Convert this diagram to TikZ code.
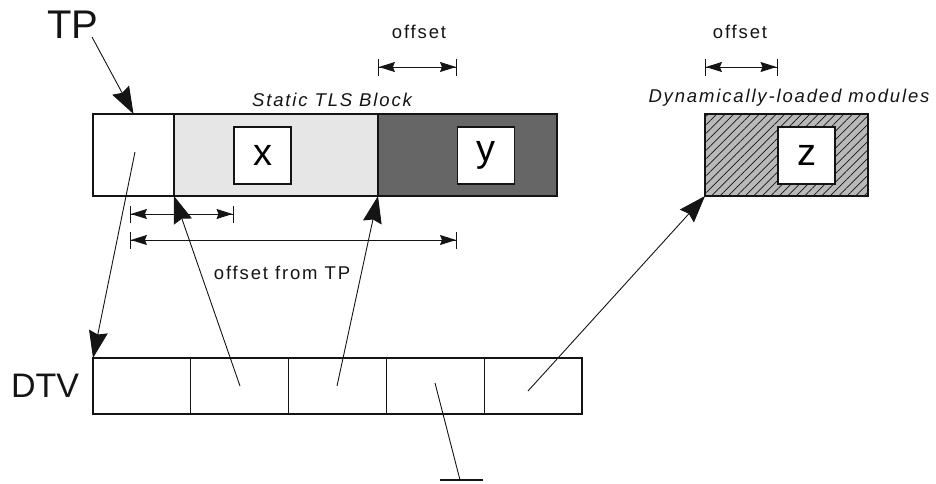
\documentclass[tikz,border=0pt]{standalone}
\usepackage{fontspec}
\setmainfont{Liberation Sans}
\newfontfamily\lblfont[LetterSpace=10]{Liberation Sans}
\usepackage{tikz}
\usetikzlibrary{arrows.meta, positioning, patterns.meta}
\definecolor{ink}{RGB}{20,20,20}
\definecolor{tlslight}{RGB}{230,230,230}
\definecolor{tlsdark}{RGB}{102,102,102}
\definecolor{modgray}{RGB}{185,185,185}
\tikzset{
  cell/.style={rectangle, draw=ink, line width=1.2pt, inner sep=0pt,
    outer sep=0pt, minimum height=82pt},
  varbox/.style={rectangle, draw=ink, fill=white, line width=1.2pt,
    minimum width=57pt, minimum height=57pt, inner sep=0pt,
    font=\fontsize{38}{40}\selectfont},
  dtvcell/.style={rectangle, draw=ink, line width=1.2pt, inner sep=0pt,
    outer sep=0pt, minimum width=97.8pt, minimum height=56pt},
  ptr/.style={-{Stealth[length=27pt, width=19pt, inset=3pt]},
    line width=0.9pt, color=ink},
  dim/.style={{Bar[width=17pt]Stealth[length=16pt, width=10pt, inset=2pt]}-{Stealth[length=16pt, width=10pt, inset=2pt]Bar[width=17pt]},
    line width=0.9pt, color=ink},
  lbl/.style={font=\lblfont\fontsize{18.5}{20}\selectfont, inner sep=0pt, text=ink},
  ilbl/.style={font=\lblfont\itshape\fontsize{18.5}{20}\selectfont, inner sep=0pt, text=ink},
  biglbl/.style={inner sep=0pt, text=ink}
}

\begin{document}
\begin{tikzpicture}[x=1pt, y=-1pt]
  \useasboundingbox (0,0) rectangle (936,483);
  % ── Static TLS block ───────────────────────────────────────────────
  \node[cell, minimum width=81pt, anchor=north west] (tpcell) at (93,114) {};
  \node[cell, fill=tlslight, minimum width=204pt, right=0pt of tpcell] (xblock) {};
  \node[cell, fill=tlsdark, minimum width=179pt, right=0pt of xblock] (yblock) {};
  \node[varbox] (x) at (262.5,155.5) {x};
  \node[varbox] (y) at (486,155.5) {y};
  \node[ilbl] (tlslbl) at (332,100) {Static TLS Block};

  % ── Dynamically-loaded module ──────────────────────────────────────
  \node[cell, fill=modgray, minimum width=163pt,
    postaction={pattern={Lines[angle=45, distance=6pt, line width=0.7pt]}, pattern color=ink}]
    (zblock) at (786.5,155) {};
  \node[varbox] (z) at (806.5,155.5) {z};
  \node[ilbl] (modlbl) at (789,98) {Dynamically-loaded modules};

  % ── Thread pointer ─────────────────────────────────────────────────
  \node[biglbl, font=\fontsize{40}{42}\selectfont] (tp) at (73,25) {TP};
  \coordinate (tpfoot) at (92,37);
  \draw[ptr] (tpfoot) -- (tpcell.north);

  % ── Offsets ────────────────────────────────────────────────────────
  \node[lbl] (off1) at (419,32) {offset};
  \node[lbl] (off2) at (740,32) {offset};
  \coordinate (o1a) at (yblock.west |- 0,67);
  \coordinate (o1b) at (y.west |- 0,67);
  \coordinate (o2a) at (zblock.west |- 0,67);
  \coordinate (o2b) at (z.west |- 0,67);
  \draw[dim] (o1a) -- (o1b);
  \draw[dim] (o2a) -- (o2b);
  \coordinate (tpa) at (130,214);
  \coordinate (tpb) at (130,240);
  \draw[dim] (tpa) -- (x.west |- tpa);
  \draw[dim] (tpb) -- (y.west |- tpb);
  \node[lbl] (offtp) at (282,273) {offset from TP};

  % ── DTV ────────────────────────────────────────────────────────────
  \node[biglbl, font=\fontsize{34}{36}\selectfont] (dtv) at (45,386) {DTV};
  \node[dtvcell, anchor=north west] (dtv1) at (93,358) {};
  \foreach \i [remember=\i as \j (initially 1)] in {2,...,5}
    \node[dtvcell, right=0pt of dtv\j] (dtv\i) {};

  % ── Pointers ───────────────────────────────────────────────────────
  \coordinate (p0) at (135,152);
  \coordinate (p2) at (240,386);
  \coordinate (p3) at (337,386);
  \coordinate (p4) at (435,383);
  \coordinate (p5) at (528,391);
  \coordinate (nul) at (460,480);
  \draw[ptr] (p0) -- (dtv1.north west);
  \draw[ptr] (p2) -- (xblock.south west);
  \draw[ptr] (p3) -- (yblock.south west);
  \draw[ptr] (p5) -- (zblock.south west);
  % null entry
  \draw[line width=0.9pt, color=ink] (p4) -- (nul);
  \draw[line width=1.2pt, color=ink] ([xshift=-20pt]nul) -- ([xshift=23pt]nul);
\end{tikzpicture}
\end{document}
